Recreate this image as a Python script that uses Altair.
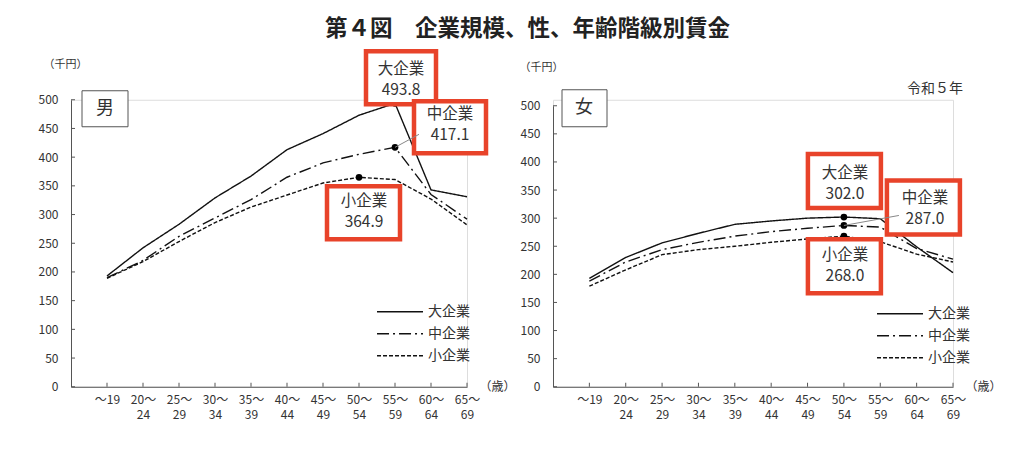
import json
import pandas as pd
import altair as alt

# ---------------- data ----------------
ages = ["～19", "20～24", "25～29", "30～34", "35～39", "40～44",
        "45～49", "50～54", "55～59", "60～64", "65～69"]
series_names = ["大企業", "中企業", "小企業"]

male_large = [193, 242, 283, 329, 367, 413, 441, 473, 493.8, 343, 331]
male_mid = [190, 220, 262, 294, 326, 365, 390, 405, 417.1, 335, 292]
male_small = [189, 218, 253, 286, 313, 334, 355, 364.9, 361, 327, 282]

female_large = [193, 230, 256, 273, 289, 295, 300, 302.0, 299, 249, 203]
female_mid = [188, 222, 244, 257, 268, 276, 282, 287.0, 284, 246, 227]
female_small = [179, 208, 235, 244, 250, 257, 263, 268.0, 258, 236, 222]

panel_names = ["男", "女"]
y_ticks = [0, 50, 100, 150, 200, 250, 300, 350, 400, 450, 500]
title_text = "第４図　企業規模、性、年齢階級別賃金"
unit_y = "（千円）"
unit_x = "（歳）"
year_label = "令和５年"

# annotated points: (series, age index)
male_annot = [("大企業", 8), ("中企業", 8), ("小企業", 7)]
female_annot = [("大企業", 7), ("中企業", 7), ("小企業", 7)]

# ---------------- style ----------------
FONT = "Noto Sans CJK JP"
RED = "#E8432A"
TXT = "#333333"
AXC = "#555555"
H = 287


def age_lines(a):
    if a.startswith("～"):
        return [a]
    i = a.index("～")
    return [a[:i + 1], a[i + 1:]]


label_expr = json.dumps([age_lines(a) for a in ages], ensure_ascii=False) + "[datum.value]"


def panel(name, series_vals, annots, width, y_range, unit_xy, legend_xy,
          box_geo, name_xy, anno_geo, year=None):
    rows = []
    for s, vals in zip(series_names, series_vals):
        for i, v in enumerate(vals):
            rows.append({"idx": i, "age": ages[i], "series": s, "value": v})
    df = pd.DataFrame(rows)

    X = alt.X("idx:Q",
              scale=alt.Scale(domain=[-1, len(ages) - 1], nice=False, zero=False),
              axis=alt.Axis(values=list(range(len(ages))), labelExpr=label_expr,
                            ticks=False, grid=False, domainColor=AXC, domainWidth=1,
                            labelFont=FONT, labelFontSize=12, labelColor=TXT,
                            labelPadding=8, labelBaseline="top", labelLineHeight=15,
                            labelFlush=False, labelOverlap=False, labelBound=False,
                            title=unit_x, titleFont=FONT, titleFontSize=12,
                            titleFontWeight="normal", titleColor=TXT, titleAngle=0,
                            titleX=width + 12, titleY=0, titleAlign="left",
                            titleBaseline="middle"))
    yscale = alt.Scale(domain=[0, 500], nice=False, zero=True)
    if y_range is not None:
        yscale = alt.Scale(domain=[0, 500], nice=False, zero=True, range=y_range)
    Y = alt.Y("value:Q", scale=yscale,
              axis=alt.Axis(values=y_ticks, ticks=False, grid=False, domainColor=AXC,
                            domainWidth=1, labelFont=FONT, labelFontSize=12,
                            labelColor=TXT, labelPadding=13,
                            title=unit_y, titleFont=FONT, titleFontSize=11,
                            titleFontWeight="normal", titleColor=TXT, titleAngle=0,
                            titleX=unit_xy[0], titleY=unit_xy[1], titleAlign="left",
                            titleBaseline="middle"))

    lines = alt.Chart(df).mark_line(color="#111111", strokeWidth=1.4).encode(
        x=X, y=Y,
        strokeDash=alt.StrokeDash(
            "series:N",
            scale=alt.Scale(domain=series_names, range=[[1, 0], [12, 4, 2, 4], [4, 2]]),
            legend=alt.Legend(orient="none", legendX=legend_xy[0], legendY=legend_xy[1],
                              title=None, symbolType="M-4,0H4", symbolSize=132,
                              symbolStrokeWidth=1.5, symbolStrokeColor="#111111",
                              labelFont=FONT, labelFontSize=14, labelColor=TXT,
                              labelOffset=21, rowPadding=8)),
        detail="series:N",
    )

    yt = alt.Chart(pd.DataFrame({"value": y_ticks})).mark_rule(color=AXC).encode(
        y=Y, x=alt.value(0), x2=alt.value(4))
    xt = alt.Chart(pd.DataFrame({"idx": list(range(len(ages)))})).mark_rule(color=AXC).encode(
        x=X, y=alt.value(H), y2=alt.value(H - 4))

    layers = [lines, yt, xt]

    vals = dict(zip(series_names, series_vals))
    dots, boxes, leaders, texts = [], [], [], []
    for (s, i), geo in zip(annots, anno_geo):
        v = vals[s][i]
        adf = pd.DataFrame({"idx": [i], "value": [v], "label": [f"{s}\n{v:.1f}"]})
        (bx1, bx2, by1, by2), (tdx, tdy), lead = geo
        dots.append(alt.Chart(adf).mark_circle(size=45, color="#000000", opacity=1).encode(x=X, y=Y))
        boxes.append(alt.Chart(adf).mark_rect(
            fill="white", stroke=RED, strokeWidth=4.5,
            xOffset=bx1, x2Offset=bx2, yOffset=by1, y2Offset=by2).encode(
            x=X, x2="idx:Q", y=Y, y2="value:Q"))
        if lead is not None:
            leaders.append(alt.Chart(adf).mark_rule(
                color="#888888", strokeWidth=1, x2Offset=lead[0], y2Offset=lead[1]).encode(
                x=X, x2="idx:Q", y=Y, y2="value:Q"))
        texts.append(alt.Chart(adf).mark_text(
            dx=tdx, dy=tdy, font=FONT, fontSize=15.5, color=TXT, lineBreak="\n",
            lineHeight=21, align="center", baseline="middle").encode(
            x=X, y=Y, text="label:N"))

    layers += dots + boxes + leaders + texts

    ndf = pd.DataFrame({"t": [name]})
    layers.append(alt.Chart(ndf).mark_rect(fill="white", stroke=AXC, strokeWidth=1).encode(
        x=alt.value(box_geo[0]), x2=alt.value(box_geo[1]),
        y=alt.value(box_geo[2]), y2=alt.value(box_geo[3])))
    layers.append(alt.Chart(ndf).mark_text(font=FONT, fontSize=18, color=TXT).encode(
        x=alt.value(name_xy[0]), y=alt.value(name_xy[1]), text="t:N"))
    if year is not None:
        layers.append(alt.Chart(pd.DataFrame({"t": [year[0]]})).mark_text(
            font=FONT, fontSize=14, color=TXT).encode(
            x=alt.value(year[1]), y=alt.value(year[2]), text="t:N"))

    return alt.layer(*layers).properties(width=width, height=H)


left = panel(
    panel_names[0], [male_large, male_mid, male_small], male_annot, 396, None,
    (-28, -35), (322, 205), (11, 57, -9, 27), (34, 9),
    [((-29, 41, -52, 1), (6, -34), None),
     ((19, 91, -46, 6), (55, -33), (24, -13)),
     ((-32, 41, 9, 62), (5, 24), None)])

right = panel(
    panel_names[1], [female_large, female_mid, female_small], female_annot, 400, [H, 6],
    (-34, -32), (340, 207), (9, 54, -10, 27), (31, 8),
    [((-36, 37, -63, -9), (1, -44), None),
     ((43, 116, -45, 9), (81, -27), (55, -10)),
     ((-36, 37, 3, 57), (1, 19), None)],
    year=(year_label, 382, -11))

chart = alt.hconcat(left, right, spacing=86, bounds="flush").resolve_scale(
    strokeDash="independent").resolve_legend(strokeDash="independent").properties(
    title=alt.Title(title_text, font=FONT, fontSize=22.5, fontWeight="bold",
                    color="#222222", anchor="middle", dx=8, offset=7.75),
    padding={"left": 29, "top": 9.75, "right": 5, "bottom": 5},
).configure_view(stroke=None).configure(background="white")

chart.save("out.html", embed_options={"renderer": "svg", "actions": False})
